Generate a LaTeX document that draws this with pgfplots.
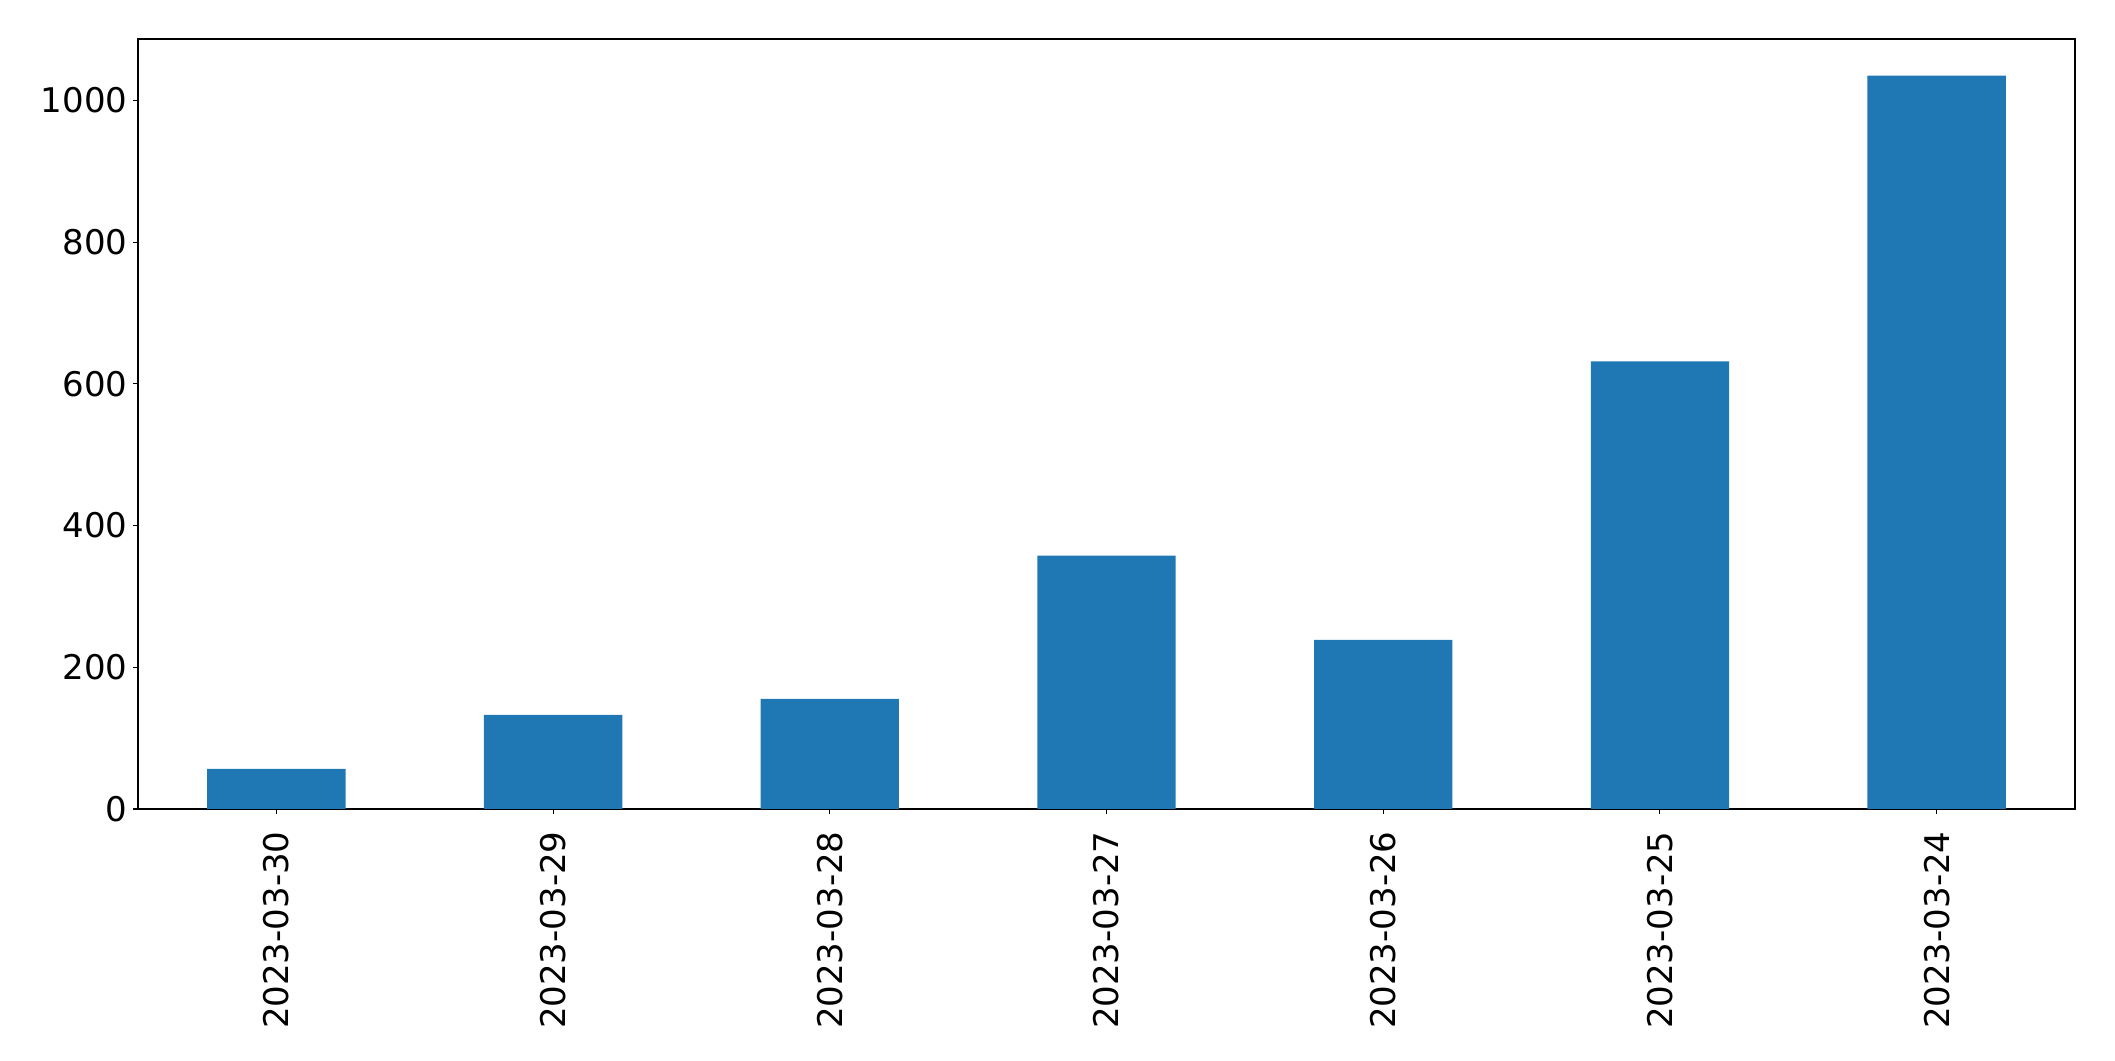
\documentclass[border=0pt]{standalone}
\usepackage{pgfplots}
\pgfplotsset{compat=1.18}
\usepackage{fontspec}
\setmainfont{DejaVu Sans}
\definecolor{tabblue}{HTML}{1F77B4}
\begin{document}
\begin{tikzpicture}[x=1pt,y=1pt]
\begin{axis}[
  name=ax,
  scale only axis,
  width=581.1pt, height=231pt,
  xmin=-0.5, xmax=6.5,
  ymin=0, ymax=1086.7,
  xtick={0,1,2,3,4,5,6},
  xticklabels={2023-03-30,2023-03-29,2023-03-28,2023-03-27,2023-03-26,2023-03-25,2023-03-24},
  ytick={0,200,400,600,800,1000},
  tick align=outside,
  major tick length=1.5pt,
  tick style={black, line width=0.33pt},
  axis line style={line width=0.33pt},
  /pgf/number format/assume math mode=true,
  /pgf/number format/1000 sep={},
  ticklabel style={font=\fontsize{10.2}{12}\selectfont},
  xticklabel style={rotate=90, anchor=east, inner sep=0pt},
  xticklabel shift=5pt,
  yticklabel style={inner sep=0pt},
  xtick pos=bottom, ytick pos=left,
  yticklabel shift=1.5pt,
]
\addplot[ybar, bar width=0.5, fill=tabblue, draw=none] coordinates {
(0,56.5) (1,132.7) (2,155.3) (3,357.6) (4,238.6) (5,631.8) (6,1034.9)
};
\end{axis}
\useasboundingbox ([xshift=-41.4pt,yshift=-75.6pt]ax.south west) rectangle ([xshift=12pt,yshift=11.7pt]ax.north east);
\end{tikzpicture}
\end{document}
